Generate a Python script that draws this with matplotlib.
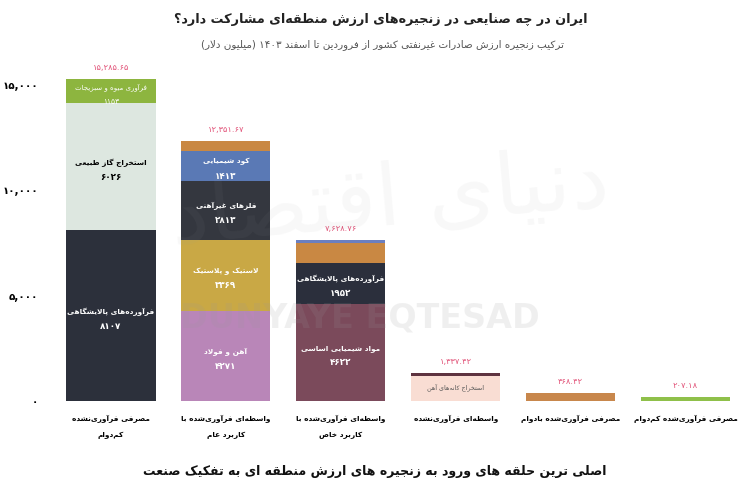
import unicodedata
import matplotlib
matplotlib.use('Agg')
import matplotlib.pyplot as plt

# ---------------- data ----------------
categories = ['مصرفی فرآوری‌نشده\nکم‌دوام',
              'واسطه‌ای فرآوری‌شده با\nکاربرد عام',
              'واسطه‌ای فرآوری‌شده با\nکاربرد خاص',
              'واسطه‌ای فرآوری‌نشده',
              'مصرفی فرآوری‌شده بادوام',
              'مصرفی فرآوری‌شده کم‌دوام']
bar_totals = [15285.65, 12351.67, 7628.76, 1337.42, 368.42, 207.18]

b1_values = [8107, 6026, 1152.65]
b1_names = ['فرآورده‌های پالایشگاهی', 'استخراج گاز طبیعی', 'فرآوری میوه و سبزیجات']
b2_values = [4271, 3369, 2813, 1413, 485.67]
b2_names = ['آهن و فولاد', 'لاستیک و پلاستیک', 'فلزهای غیرآهنی', 'کود شیمیایی', '']
b3_values = [4622, 1952, 905, 149.76]
b3_names = ['مواد شیمیایی اساسی', 'فرآورده‌های پالایشگاهی', '', '']
b4_values = [1200, 137.42]
b4_names = ['استخراج کانه‌های آهن', '']
b5_values = [368.42]
b5_names = ['']
b6_values = [207.18]
b6_names = ['']

y_ticks = [0, 5000, 10000, 15000]

title = 'ایران در چه صنایعی در زنجیره‌های ارزش منطقه‌ای مشارکت دارد؟'
subtitle = 'ترکیب زنجیره ارزش صادرات غیرنفتی کشور از فروردین تا اسفند ۱۴۰۳ (میلیون دلار)'
bottom_title = 'اصلی ترین حلقه های ورود به زنجیره های ارزش منطقه ای به تفکیک صنعت'

# ---------------- styles ----------------
b1_colors = ['#2c303b', '#dde7e0', '#8db53f']
b2_colors = ['#b986b8', '#c9a845', '#34373f', '#5a79b5', '#c98843']
b3_colors = ['#7b4a5b', '#2b2f3c', '#c98843', '#6b7fc0']
b4_colors = ['#f9ddd3', '#5e3340']
b5_colors = ['#c8874c']
b6_colors = ['#8fc04a']
b1_text = ['white', 'black', 'white']
b2_text = ['white', 'white', 'white', 'white', 'white']
b3_text = ['white', 'white', 'white', 'white']
b4_text = ['#555555', 'white']


# ---------------- simple Persian shaping + RTL ----------------
def _form(ch, kind):
    try:
        return unicodedata.lookup(unicodedata.name(ch) + ' ' + kind + ' FORM')
    except (KeyError, ValueError):
        return None


def _jtype(ch):
    if '\u0600' <= ch <= '\u06FF':
        if _form(ch, 'INITIAL'):
            return 'D'
        if _form(ch, 'FINAL'):
            return 'R'
    return 'U'


_LAMALEF = {'\u0627': 'ARABIC LIGATURE LAM WITH ALEF',
            '\u0622': 'ARABIC LIGATURE LAM WITH ALEF WITH MADDA ABOVE',
            '\u0623': 'ARABIC LIGATURE LAM WITH ALEF WITH HAMZA ABOVE',
            '\u0625': 'ARABIC LIGATURE LAM WITH ALEF WITH HAMZA BELOW'}


def _shape(s):
    ch = list(s)
    n = len(ch)
    out = []
    i = 0
    while i < n:
        c = ch[i]
        jt = _jtype(c)
        prev_j = jt in ('D', 'R') and i > 0 and _jtype(ch[i - 1]) == 'D'
        if c == '\u0644' and i + 1 < n and ch[i + 1] in _LAMALEF:
            kind = 'FINAL' if prev_j else 'ISOLATED'
            out.append(unicodedata.lookup(_LAMALEF[ch[i + 1]] + ' ' + kind + ' FORM'))
            i += 2
            continue
        next_j = jt == 'D' and i + 1 < n and _jtype(ch[i + 1]) in ('D', 'R')
        if jt == 'U':
            out.append(c)
        else:
            if prev_j and next_j:
                kind = 'MEDIAL'
            elif prev_j:
                kind = 'FINAL'
            elif next_j:
                kind = 'INITIAL'
            else:
                kind = 'ISOLATED'
            out.append(_form(c, kind) or c)
        i += 1
    return ''.join(out)


_DIG = set('۰۱۲۳۴۵۶۷۸۹0123456789')
_MIR = {'(': ')', ')': '('}


def _rtl_line(s):
    t = _shape(s).replace('\u200c', '')
    toks = []
    i = 0
    while i < len(t):
        if t[i] in _DIG:
            j = i
            while j < len(t) and (t[j] in _DIG or (t[j] in ',.' and j + 1 < len(t) and t[j + 1] in _DIG)):
                j += 1
            toks.append(t[i:j])
            i = j
        else:
            toks.append(_MIR.get(t[i], t[i]))
            i += 1
    return ''.join(reversed(toks))


def rtl(s):
    return '\n'.join(_rtl_line(x) for x in s.split('\n'))


def fa(x, fmt):
    return format(x, fmt).translate(str.maketrans('0123456789', '۰۱۲۳۴۵۶۷۸۹'))


# ---------------- figure ----------------
plt.rcParams['font.family'] = ['DejaVu Sans']
fig = plt.figure(figsize=(7.5, 5.03), dpi=100)
fig.patch.set_facecolor('white')
ax = fig.add_axes([0.0714, 0.2028, 0.9193, 0.67])
ax.set_xlim(-0.5, 5.5)
ax.set_ylim(0, 16000)
for sp in ax.spines.values():
    sp.set_visible(False)

bars_values = [b1_values, b2_values, b3_values, b4_values, b5_values, b6_values]
bars_names = [b1_names, b2_names, b3_names, b4_names, b5_names, b6_names]
bars_colors = [b1_colors, b2_colors, b3_colors, b4_colors, b5_colors, b6_colors]
bars_text = [b1_text, b2_text, b3_text, b4_text, ['white'], ['white']]
width = 0.775

for xi in range(len(categories)):
    bottom = 0
    for k, v in enumerate(bars_values[xi]):
        ax.bar(xi, v, width=width, bottom=bottom, color=bars_colors[xi][k],
               edgecolor='none', zorder=2)
        name = bars_names[xi][k]
        if name:
            yc = bottom + v / 2
            tc = bars_text[xi][k]
            if xi == 3:
                ax.annotate(rtl(name), (xi, yc), xytext=(0, 1), textcoords='offset points',
                            ha='center', va='center', fontsize=4.6, color=tc, zorder=3)
            else:
                small = (xi == 0 and k == 2)
                ax.annotate(rtl(name), (xi, yc), xytext=(0, 3), textcoords='offset points',
                            ha='center', va='center', fontsize=5.0 if small else 5.3,
                            fontweight='normal' if small else 'bold',
                            color=tc, zorder=3)
                ax.annotate(fa(round(v), 'd'), (xi, yc), xytext=(0, -7.5),
                            textcoords='offset points', ha='center', va='center',
                            fontsize=5.5 if small else 6.3,
                            fontweight='normal' if small else 'bold',
                            color=tc, zorder=3)
        bottom += v
    ax.annotate(fa(bar_totals[xi], ',.2f'), (xi, bar_totals[xi]), xytext=(0, 5),
                textcoords='offset points', ha='center', va='bottom',
                fontsize=6, color='#e2557a', zorder=3)

ax.set_yticks(y_ticks)
ax.set_yticklabels([fa(t, ',d') for t in y_ticks], fontsize=7.5, fontweight='bold')
ax.set_xticks(range(len(categories)))
ax.set_xticklabels([rtl(c) for c in categories], fontsize=5.3, fontweight='bold',
                   linespacing=2.6, va='top')
ax.tick_params(axis='both', length=0)
ax.tick_params(axis='y', pad=11)
ax.tick_params(axis='x', pad=10)

# watermark
fig.text(0.48, 1 - 318 / 503, 'DUNYAYE EQTESAD', ha='center', va='center', fontsize=24,
         fontweight='bold', color='#9a9a9a', alpha=0.15, zorder=10)
fig.text(0.52, 0.6, rtl('دنیای اقتصاد'), ha='center', va='center', fontsize=62,
         color='#9a9a9a', alpha=0.07, zorder=10, rotation=5)

# titles
fig.text(0.508, 1 - 19 / 503, rtl(title), ha='center', va='center', fontsize=9.2,
         fontweight='bold', color='#222222')
fig.text(0.51, 1 - 45 / 503, rtl(subtitle), ha='center', va='center', fontsize=7.5,
         color='#555555')
fig.text(0.5, 1 - 472 / 503, rtl(bottom_title), ha='center', va='center', fontsize=9,
         fontweight='bold', color='#111111')

fig.savefig('out.png', dpi=100, facecolor='white')
